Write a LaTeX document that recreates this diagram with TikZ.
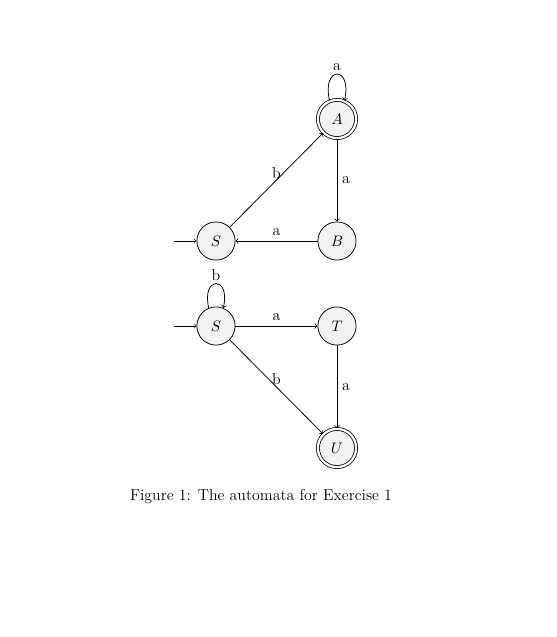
\documentclass[tikz,border=0pt]{standalone}
\usetikzlibrary{automata,arrows}
\begin{document}
\begin{tikzpicture}[x=0.72pt,y=-0.72pt,
  every node/.style={font=\fontsize{11.4pt}{13.5pt}\selectfont},
  st/.style={state,draw=black,fill=gray!10,minimum size=27.5pt,inner sep=0pt,line width=0.55pt},
  acc/.style={accepting,double distance=1.6pt},
  edge/.style={->,line width=0.55pt},
  initial text={},initial distance=16pt]
\useasboundingbox (0,0) rectangle (557,637);
% top automaton
\node[st,acc] (A) at (337,119) {$A$};
\node[st,initial,initial where=left] (S1) at (216,241) {$S$};
\node[st] (B) at (337,241) {$B$};
\draw[edge] (S1) -- node[above,inner sep=1pt] {b} (A);
\draw[edge] (A) -- node[right] {a} (B);
\draw[edge] (B) -- node[above] {a} (S1);
\draw[edge] (A.112) .. controls +(103:26pt) and +(77:26pt) .. node[above,inner sep=2pt] {a} (A.68);
% bottom automaton
\node[st,initial] (S2) at (216,326) {$S$};
\node[st] (T) at (337,326) {$T$};
\node[st,acc] (U) at (337,448) {$U$};
\draw[edge] (S2) -- node[above] {a} (T);
\draw[edge] (T) -- node[right] {a} (U);
\draw[edge] (S2) -- node[above,inner sep=1pt] {b} (U);
\draw[edge] (S2.112) .. controls +(103:24pt) and +(77:24pt) .. node[above,inner sep=2pt] {b} (S2.68);
% caption
\node (cap) at (261,497) {Figure 1: The automata for Exercise 1};
\end{tikzpicture}
\end{document}
